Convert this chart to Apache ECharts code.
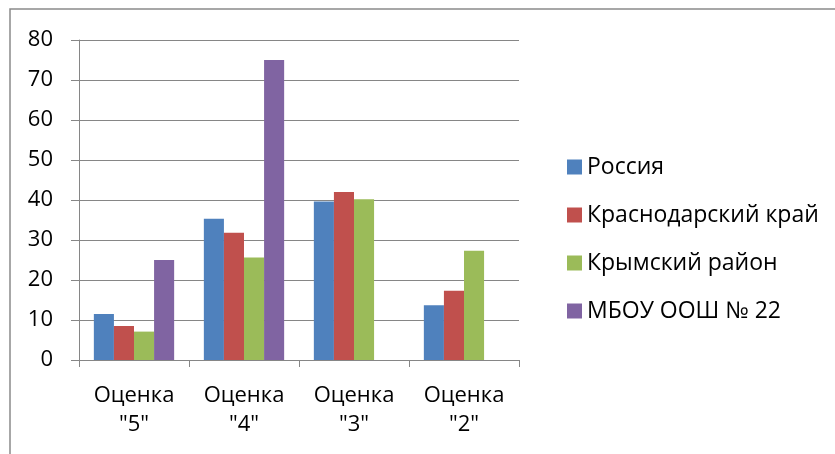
<!DOCTYPE html>
<html>
<head>
<meta charset="utf-8">
<script src="https://cdn.jsdelivr.net/npm/echarts@6/dist/echarts.min.js"></script>
<style>
  html, body { margin: 0; padding: 0; background: #fff; }
  #chart { width: 835px; height: 454px; }
</style>
</head>
<body>
<div id="chart"></div>
<script>
// data
const categories = ['Оценка\n"5"', 'Оценка\n"4"', 'Оценка\n"3"', 'Оценка\n"2"'];
const russia = [11.5, 35.3, 39.6, 13.7];
const krasnodar = [8.5, 31.8, 42.0, 17.3];
const krymsky = [7.1, 25.6, 40.2, 27.3];
const school = [25.0, 75.0, null, null];
const seriesNames = ['Россия', 'Краснодарский край', 'Крымский район', 'МБОУ ООШ № 22'];
const colors = ['#4F81BD', '#C0504D', '#9BBB59', '#8064A2'];

const font = '"Open Sans", "Noto Sans", sans-serif';
const chart = echarts.init(document.getElementById('chart'));

function bar(name, data, color) {
  return {
    name: name,
    type: 'bar',
    data: data,
    barGap: 0,
    barCategoryGap: '27%',
    itemStyle: { color: color },
    animation: false
  };
}

chart.setOption({
  color: colors,
  grid: { left: 79, right: 316, top: 40, bottom: 94 },
  legend: {
    orient: 'vertical',
    left: 562,
    top: 150,
    itemWidth: 15,
    itemHeight: 15,
    itemGap: 24,
    icon: 'rect',
    textStyle: { fontFamily: font, fontSize: 23, color: '#000', lineHeight: 24 },
    data: seriesNames
  },
  xAxis: {
    type: 'category',
    data: categories,
    axisLine: { lineStyle: { color: '#868686', width: 1 } },
    axisTick: { show: true, length: 7, lineStyle: { color: '#868686' } },
    axisLabel: {
      color: '#000', fontFamily: font, fontSize: 22, lineHeight: 29,
      margin: 21, interval: 0
    }
  },
  yAxis: {
    type: 'value',
    min: 0,
    max: 80,
    interval: 10,
    axisLine: { show: true, lineStyle: { color: '#868686', width: 1 } },
    axisTick: { show: true, length: 8, lineStyle: { color: '#868686' } },
    splitLine: { lineStyle: { color: '#868686', width: 1 } },
    axisLabel: { color: '#000', fontFamily: font, fontSize: 22, margin: 26 }
  },
  graphic: [{
    type: 'rect',
    shape: { x: 10, y: 9, width: 900, height: 500 },
    style: { fill: 'none', stroke: '#8a8a8a', lineWidth: 1.5 },
    silent: true
  }],
  series: [
    bar(seriesNames[0], russia, colors[0]),
    bar(seriesNames[1], krasnodar, colors[1]),
    bar(seriesNames[2], krymsky, colors[2]),
    bar(seriesNames[3], school, colors[3])
  ]
});
</script>
</body>
</html>
